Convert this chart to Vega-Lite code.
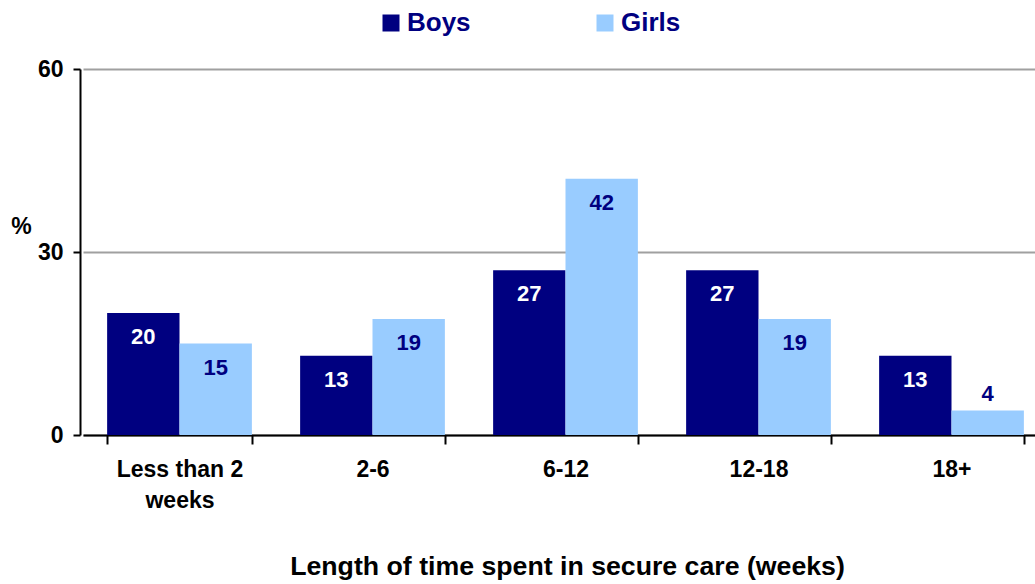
{
  "$schema": "https://vega.github.io/schema/vega-lite/v6.json",
  "width": 955,
  "height": 366,
  "autosize": {"type": "none"},
  "padding": {"left": 80, "top": 69, "right": 0, "bottom": 149},
  "background": "white",
  "config": {"view": {"stroke": null}, "font": "Liberation Sans"},
  "data": {
    "values": [
      {"duration": "Less than 2 weeks", "sex": "Boys", "pct": 20},
      {"duration": "Less than 2 weeks", "sex": "Girls", "pct": 15},
      {"duration": "2-6", "sex": "Boys", "pct": 13},
      {"duration": "2-6", "sex": "Girls", "pct": 19},
      {"duration": "6-12", "sex": "Boys", "pct": 27},
      {"duration": "6-12", "sex": "Girls", "pct": 42},
      {"duration": "12-18", "sex": "Boys", "pct": 27},
      {"duration": "12-18", "sex": "Girls", "pct": 19},
      {"duration": "18+", "sex": "Boys", "pct": 13},
      {"duration": "18+", "sex": "Girls", "pct": 4}
    ]
  },
  "encoding": {
    "x": {
      "field": "duration",
      "type": "nominal",
      "sort": ["Less than 2 weeks", "2-6", "6-12", "12-18", "18+"],
      "scale": {"range": [3, 968], "paddingInner": 0.25, "paddingOuter": 0.125},
      "axis": {
        "title": "Length of time spent in secure care (weeks)",
        "titleFontSize": 26.7,
        "titleFontWeight": "bold",
        "titleColor": "black",
        "titleX": 487,
        "titleY": 139,
        "titleAlign": "center",
        "titleBaseline": "alphabetic",
        "labelAngle": 0,
        "labelFontSize": 23,
        "labelFontWeight": "bold",
        "labelColor": "black",
        "labelPadding": 14,
        "labelLineHeight": 31,
        "labelExpr": "datum.value == 'Less than 2 weeks' ? ['Less than 2', 'weeks'] : datum.value",
        "tickBand": "extent",
        "tickSize": 9,
        "tickWidth": 2,
        "tickColor": "black",
        "domainColor": "black",
        "domainWidth": 2,
        "grid": false
      }
    },
    "xOffset": {"field": "sex", "type": "nominal", "sort": ["Boys", "Girls"]},
    "y": {
      "field": "pct",
      "type": "quantitative",
      "scale": {"domain": [0, 60]},
      "axis": {
        "title": "%",
        "titleAngle": 0,
        "titleX": -59,
        "titleY": 157,
        "titleAlign": "center",
        "titleBaseline": "middle",
        "titleFontSize": 23,
        "titleFontWeight": "bold",
        "titleColor": "black",
        "values": [0, 30, 60],
        "labelFontSize": 23,
        "labelFontWeight": "bold",
        "labelColor": "black",
        "labelPadding": 10,
        "tickSize": 7,
        "tickWidth": 2,
        "tickColor": "black",
        "domainColor": "black",
        "domainWidth": 2,
        "grid": true,
        "gridColor": "#a0a0a0",
        "gridWidth": 2
      }
    }
  },
  "layer": [
    {
      "mark": {"type": "bar"},
      "encoding": {
        "color": {
          "field": "sex",
          "type": "nominal",
          "sort": ["Boys", "Girls"],
          "scale": {"domain": ["Boys", "Girls"], "range": ["#000080", "#99ccff"]},
          "legend": {
            "orient": "none",
            "legendX": 298,
            "legendY": -59,
            "direction": "horizontal",
            "title": null,
            "symbolType": "square",
            "symbolSize": 289,
            "symbolStrokeWidth": 0,
            "symbolOpacity": 1,
            "labelFontSize": 26,
            "labelFontWeight": "bold",
            "labelColor": "#000080",
            "labelOffset": 3,
            "columnPadding": 121
          }
        }
      }
    },
    {
      "transform": [{"filter": "datum.pct >= 10"}],
      "mark": {"type": "text", "dy": 24, "fontSize": 22, "fontWeight": "bold"},
      "encoding": {
        "text": {"field": "pct", "type": "quantitative"},
        "color": {"condition": {"test": "datum.sex == 'Boys'", "value": "white"}, "value": "#000080"}
      }
    },
    {
      "transform": [{"filter": "datum.pct < 10"}],
      "mark": {"type": "text", "dy": -17, "fontSize": 22, "fontWeight": "bold", "color": "#000080"},
      "encoding": {
        "text": {"field": "pct", "type": "quantitative"}
      }
    }
  ]
}
